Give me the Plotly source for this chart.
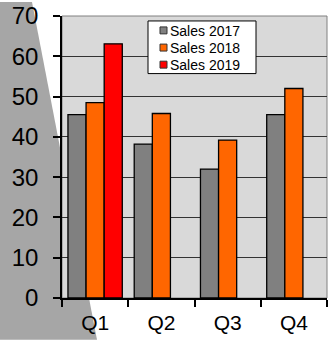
import plotly.graph_objects as go

quarters = ["Q1", "Q2", "Q3", "Q4"]
sales_2017 = [45.5, 38.2, 32.0, 45.5]
sales_2018 = [48.5, 45.8, 39.2, 52.0]
sales_2019 = [63.1, None, None, None]
series_names = ["Sales 2017", "Sales 2018", "Sales 2019"]
colors = ["#808080", "#ff6600", "#ff0000"]
y_ticks = [0, 10, 20, 30, 40, 50, 60, 70]

W, H = 329, 340
L, R, T, B = 62, 2, 14, 42
pw, ph = W - L - R, H - T - B

def px(x):
    return (x - L) / pw

def py(y):
    return (H - B - y) / ph

fig = go.Figure()
for name, vals, col in zip(series_names, [sales_2017, sales_2018, sales_2019], colors):
    fig.add_trace(go.Bar(x=quarters, y=vals, name=name, showlegend=False,
                         marker=dict(color=col, line=dict(color="black", width=1.3))))

# grey diagonal backdrop
path = "M {:.4f},{:.4f} L {:.4f},{:.4f} L {:.4f},{:.4f} L {:.4f},{:.4f} Z".format(
    px(0), py(0), px(32), py(0), px(97), py(340), px(0), py(340))
shapes = [
    dict(type="path", xref="paper", yref="paper", path=path, fillcolor="#a6a6a6",
         line=dict(width=0), layer="below"),
    dict(type="rect", xref="paper", yref="paper", x0=0, x1=1, y0=0, y1=1,
         fillcolor="#d9d9d9", line=dict(color="#808080", width=1), layer="below"),
]

# legend box (drawn as shapes + text so its compact layout matches)
annotations = []
shapes.append(dict(type="rect", xref="paper", yref="paper",
                   x0=px(148), x1=px(256), y0=py(72), y1=py(19),
                   fillcolor="white", line=dict(color="black", width=1), layer="above"))
row_y = [28.5, 45.8, 63.0]
for name, col, ry in zip(series_names, colors, row_y):
    shapes.append(dict(type="rect", xref="paper", yref="paper",
                       x0=px(160), x1=px(167), y0=py(ry + 3.5), y1=py(ry - 3.5),
                       fillcolor=col, line=dict(color="#333333", width=1), layer="above"))
    annotations.append(dict(xref="paper", yref="paper", x=px(168), y=py(ry + 0.5),
                            xanchor="left", yanchor="middle", text=name, showarrow=False,
                            font=dict(size=14, color="black")))

fig.update_layout(
    width=W, height=H,
    margin=dict(l=L, r=R, t=T, b=B),
    paper_bgcolor="white", plot_bgcolor="#d9d9d9",
    barmode="group", bargap=0.18, bargroupgap=0,
    font=dict(family="Liberation Sans, Arial, sans-serif", color="black"),
    shapes=shapes, annotations=annotations,
    showlegend=False,
)
fig.update_yaxes(range=[0, 70], tickvals=y_ticks, showgrid=True, gridcolor="#333333",
                 gridwidth=1.2, showline=True, linecolor="black", linewidth=1.5,
                 ticks="outside", ticklen=7, tickcolor="black", tickwidth=1.5,
                 tickfont=dict(size=24), ticklabelstandoff=10, zeroline=False)
fig.update_xaxes(showline=True, linecolor="black", linewidth=1.5, ticks="outside",
                 tickson="boundaries", ticklen=7, tickcolor="black", tickwidth=1.5,
                 tickfont=dict(size=21), ticklabelstandoff=5, showgrid=False)

fig.write_html("out.html")
